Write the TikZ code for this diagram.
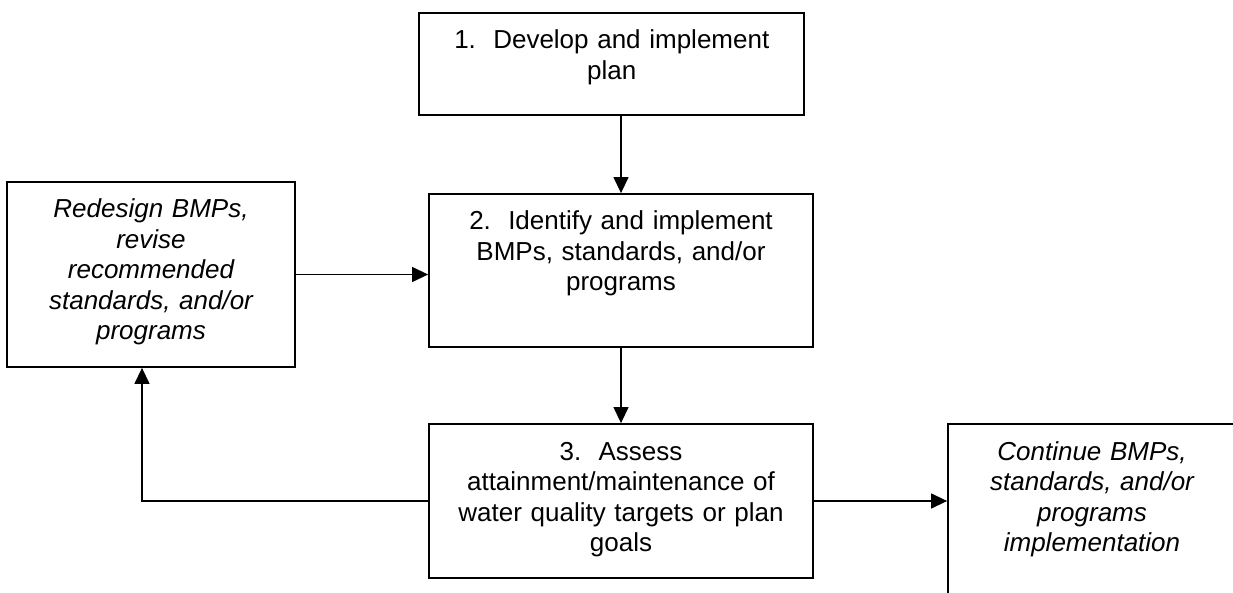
\documentclass[tikz,border=0pt]{standalone}
\usepackage{fontspec}
\setmainfont{Liberation Sans}
\usetikzlibrary{arrows.meta}
\tikzstyle{stepbox} = [rectangle, draw=black, line width=1.8pt, align=center, inner xsep=8pt, inner ysep=0pt, text height=36pt]
\tikzstyle{actbox} = [stepbox, execute at begin node=\itshape]
\tikzstyle{flow} = [line width=1.3pt, ->, >={Triangle[length=16pt,width=15pt]}]

\begin{document}
\begin{tikzpicture}[x=1pt, y=-1pt, every node/.style={font=\fontsize{26}{30.5}\selectfont}]
    \path[use as bounding box, clip] (0,0) rectangle (1233,593);

    \node at (611.8,64) [stepbox, text width=369pt, text depth=66pt] (plan) {1.\ \ Develop and implement\\plan};
    \node at (621,270.5) [stepbox, text width=368pt, text depth=117pt] (bmps) {2.\ \ Identify and implement\\BMPs, standards, and/or\\programs};
    \node at (621,501) [stepbox, text width=368pt, text depth=118pt] (assess) {3.\ \ Assess\\attainment/maintenance of\\water quality targets or plan\\goals};
    \node at (151,274.5) [actbox, text width=272pt, text depth=149pt] (redesign) {Redesign BMPs,\\revise\\recommended\\standards, and/or\\programs};
    \node at (1092,516.5) [actbox, text width=272pt, text depth=149pt] (continue) {Continue BMPs,\\standards, and/or\\programs\\implementation};

    \draw[flow] (plan.south -| bmps.north) -- (bmps.north);
    \draw[flow] (bmps) -- (assess);
    \draw[flow] (redesign.east) -- (redesign.east -| bmps.west);
    \draw[flow] (assess.west) -| ([xshift=-9pt]redesign.south);
    \draw[flow] (assess.east) -- (assess.east -| continue.west);
\end{tikzpicture}
\end{document}
